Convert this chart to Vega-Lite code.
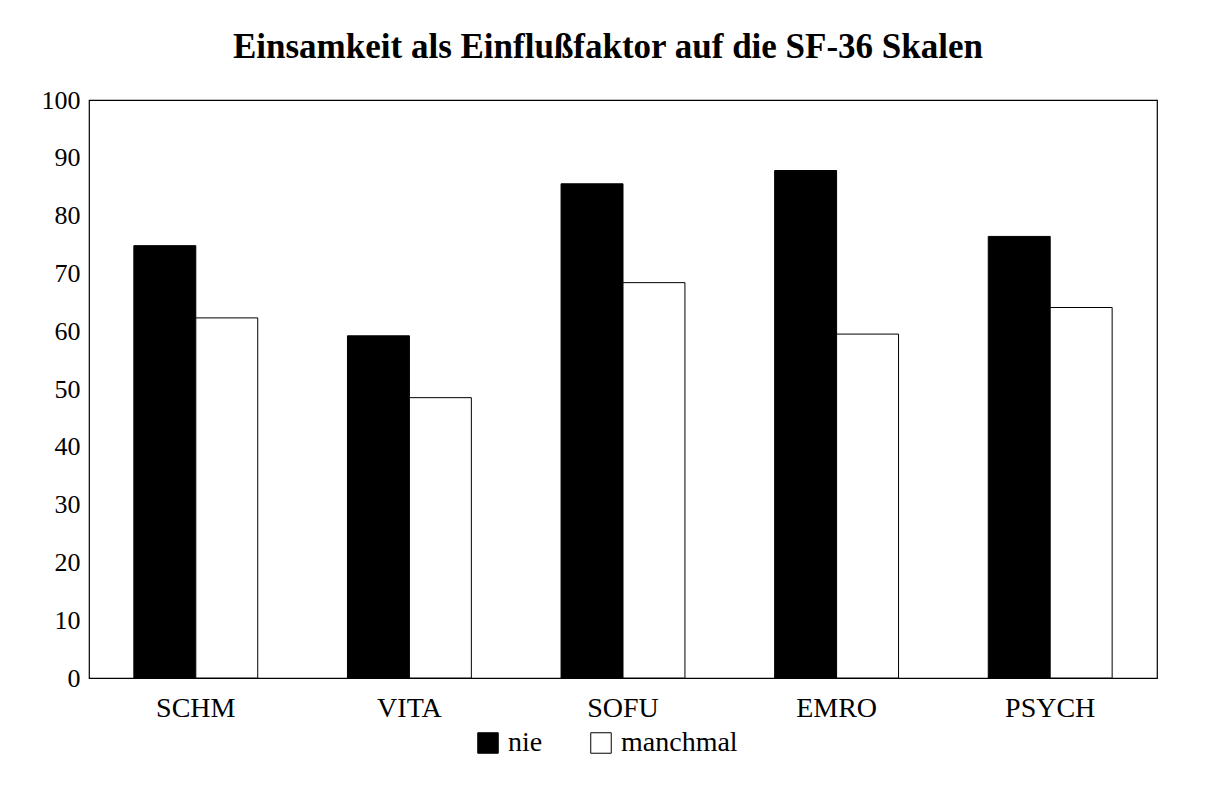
{
  "$schema": "https://vega.github.io/schema/vega-lite/v6.json",
  "width": 1068,
  "height": 578,
  "autosize": "none",
  "padding": {"left": 89, "top": 100, "right": 58, "bottom": 133},
  "background": "white",
  "title": {
    "text": "Einsamkeit als Einflußfaktor auf die SF-36 Skalen",
    "font": "Liberation Serif",
    "fontSize": 35,
    "fontWeight": "bold",
    "color": "black",
    "anchor": "middle",
    "frame": "group",
    "dx": -15,
    "offset": 22
  },
  "data": {
    "values": [
      {"skala": "SCHM", "gruppe": "nie", "wert": 74.8},
      {"skala": "SCHM", "gruppe": "manchmal", "wert": 62.3},
      {"skala": "VITA", "gruppe": "nie", "wert": 59.2},
      {"skala": "VITA", "gruppe": "manchmal", "wert": 48.5},
      {"skala": "SOFU", "gruppe": "nie", "wert": 85.5},
      {"skala": "SOFU", "gruppe": "manchmal", "wert": 68.4},
      {"skala": "EMRO", "gruppe": "nie", "wert": 87.8},
      {"skala": "EMRO", "gruppe": "manchmal", "wert": 59.5},
      {"skala": "PSYCH", "gruppe": "nie", "wert": 76.4},
      {"skala": "PSYCH", "gruppe": "manchmal", "wert": 64.1}
    ]
  },
  "mark": {"type": "bar", "stroke": "black", "strokeWidth": 1},
  "encoding": {
    "x": {
      "field": "skala",
      "type": "nominal",
      "sort": ["SCHM", "VITA", "SOFU", "EMRO", "PSYCH"],
      "scale": {"paddingInner": 0.42, "paddingOuter": 0.21},
      "axis": {
        "title": null,
        "labelAngle": 0,
        "labelFont": "Liberation Serif",
        "labelFontSize": 28,
        "labelColor": "black",
        "labelPadding": 16,
        "ticks": false,
        "domain": false
      }
    },
    "xOffset": {
      "field": "gruppe",
      "type": "nominal",
      "sort": ["nie", "manchmal"],
      "scale": {"paddingInner": 0, "paddingOuter": 0}
    },
    "y": {
      "field": "wert",
      "type": "quantitative",
      "scale": {"domain": [0, 100], "nice": false},
      "axis": {
        "title": null,
        "values": [0, 10, 20, 30, 40, 50, 60, 70, 80, 90, 100],
        "grid": false,
        "ticks": false,
        "domain": false,
        "labelFont": "Liberation Serif",
        "labelFontSize": 26,
        "labelColor": "black",
        "labelPadding": 9
      }
    },
    "fill": {
      "field": "gruppe",
      "type": "nominal",
      "sort": ["nie", "manchmal"],
      "scale": {"domain": ["nie", "manchmal"], "range": ["black", "white"]},
      "legend": {
        "title": null,
        "orient": "none",
        "legendX": 385,
        "legendY": 629,
        "direction": "horizontal",
        "symbolType": "square",
        "symbolSize": 420,
        "symbolStrokeColor": "black",
        "symbolStrokeWidth": 1,
        "labelFont": "Liberation Serif",
        "labelFontSize": 28,
        "labelColor": "black",
        "columnPadding": 44,
        "labelOffset": 6,
        "padding": 0
      }
    }
  },
  "config": {
    "view": {"stroke": "black", "strokeWidth": 1.2}
  }
}
